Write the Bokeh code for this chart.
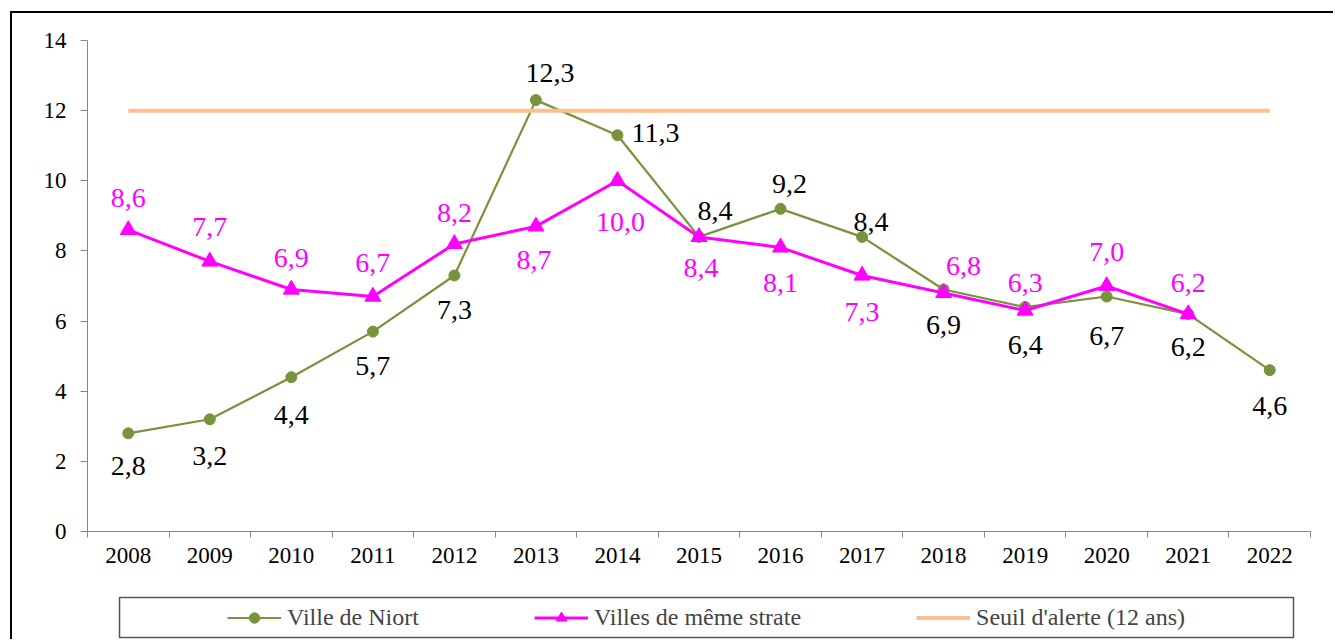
from bokeh.plotting import figure
from bokeh.models import Range1d, FixedTicker, ColumnDataSource, Legend, LegendItem
from bokeh.layouts import column
from bokeh.embed import file_html
from bokeh.resources import INLINE
from bokeh.core.properties import value

# ---- data ----
years = [2008, 2009, 2010, 2011, 2012, 2013, 2014, 2015, 2016, 2017, 2018, 2019, 2020, 2021, 2022]
niort = [2.8, 3.2, 4.4, 5.7, 7.3, 12.3, 11.3, 8.4, 9.2, 8.4, 6.9, 6.4, 6.7, 6.2, 4.6]
strate_years = [2008, 2009, 2010, 2011, 2012, 2013, 2014, 2015, 2016, 2017, 2018, 2019, 2020, 2021]
strate = [8.6, 7.7, 6.9, 6.7, 8.2, 8.7, 10.0, 8.4, 8.1, 7.3, 6.8, 6.3, 7.0, 6.2]
seuil = 12
y_ticks = [0, 2, 4, 6, 8, 10, 12, 14]
series_names = ["Ville de Niort", "Villes de même strate", "Seuil d'alerte (12 ans)"]

# label placement (screen px offsets)
niort_dx = [0, 0, 0, 0, 0, 14, 38, 16, 9, 9, 0, 0, 0, 0, 0]
niort_dy = [33, 37, 38, 34, 35, -27, -2, -26, -25, -15, 35, 38, 39, 33, 36]
strate_dx = [0, 0, 0, 0, 0, -2, 3, 2, 0, 0, 20, 0, 0, 0]
strate_dy = [-32, -34, -32, -34, -31, 34, 41, 31, 36, 37, -27, -28, -34, -31]

FONT = "Liberation Serif"
GREEN = "#77933C"
MAGENTA = "#FF00FF"
ORANGE = "#FAC090"
AXIS = "#868686"


def fmt(v):
    return f"{v:.1f}".replace(".", ",")


p = figure(frame_width=1223, frame_height=491,
           min_border_left=75, min_border_right=23, min_border_top=27, min_border_bottom=59,
           x_range=Range1d(years[0] - 0.5, years[-1] + 0.5), y_range=Range1d(0, 14),
           output_backend="svg", toolbar_location=None)
p.frame_align = False
p.grid.visible = False
p.outline_line_color = None

# x axis: ticks between categories, labels at centers
p.xaxis.ticker = FixedTicker(ticks=years, minor_ticks=[y - 0.5 for y in years] + [years[-1] + 0.5])
p.xaxis.major_tick_line_color = None
p.xaxis.major_tick_out = 6
p.xaxis.major_tick_in = 0
p.xaxis.minor_tick_line_color = AXIS
p.xaxis.minor_tick_out = 6
p.xaxis.minor_tick_in = 0
p.xaxis.axis_line_color = AXIS
p.xaxis.major_label_standoff = 10
p.xaxis.major_label_text_font = FONT
p.xaxis.major_label_text_font_size = "23px"
p.xaxis.major_label_text_color = "black"

p.yaxis.ticker = FixedTicker(ticks=y_ticks)
p.yaxis.major_tick_out = 7
p.yaxis.major_tick_in = 0
p.yaxis.minor_tick_line_color = None
p.yaxis.major_tick_line_color = AXIS
p.yaxis.axis_line_color = AXIS
p.yaxis.major_label_standoff = 14
p.yaxis.major_label_text_font = FONT
p.yaxis.major_label_text_font_size = "23px"
p.yaxis.major_label_text_color = "black"

src_n = ColumnDataSource(dict(x=years, y=niort, t=[fmt(v) for v in niort], dx=niort_dx, dy=niort_dy))
src_s = ColumnDataSource(dict(x=strate_years, y=strate, t=[fmt(v) for v in strate], dx=strate_dx, dy=strate_dy))

p.line("x", "y", source=src_n, line_color=GREEN, line_width=2.2)
p.scatter("x", "y", source=src_n, marker="circle", size=11, fill_color=GREEN, line_color=GREEN)
p.line("x", "y", source=src_s, line_color=MAGENTA, line_width=3)
p.scatter("x", "y", source=src_s, marker="triangle", size=16, fill_color=MAGENTA, line_color=MAGENTA)
p.line(years, [seuil] * len(years), line_color=ORANGE, line_width=4)

p.text("x", "y", text="t", source=src_n, x_offset="dx", y_offset="dy",
       text_font=value(FONT), text_font_size="28px", text_color="black",
       text_align="center", text_baseline="middle")
p.text("x", "y", text="t", source=src_s, x_offset="dx", y_offset="dy",
       text_font=value(FONT), text_font_size="28px", text_color=MAGENTA,
       text_align="center", text_baseline="middle")

# ---- legend box: a second figure whose frame is the legend box ----
lg = figure(frame_width=1174, frame_height=40,
            min_border_left=107, min_border_right=22, min_border_top=7, min_border_bottom=2,
            x_range=Range1d(0, 1), y_range=Range1d(0, 1),
            x_axis_location=None, y_axis_location=None,
            output_backend="svg", toolbar_location=None)
lg.frame_align = False
lg.grid.visible = False
lg.outline_line_color = "#555555"
lg.outline_line_width = 1.5
# series drawn outside this small figure's ranges: only their legend glyphs show
l1 = lg.line(years, niort, line_color=GREEN, line_width=2.2)
m1 = lg.scatter(years, niort, marker="circle", size=11, fill_color=GREEN, line_color=GREEN)
l2 = lg.line(strate_years, strate, line_color=MAGENTA, line_width=3)
m2 = lg.scatter(strate_years, strate, marker="triangle", size=16, fill_color=MAGENTA, line_color=MAGENTA)
l3 = lg.line(years, [seuil] * len(years), line_color=ORANGE, line_width=4)
legend = Legend(items=[LegendItem(label=series_names[0], renderers=[l1, m1]),
                       LegendItem(label=series_names[1], renderers=[l2, m2]),
                       LegendItem(label=series_names[2], renderers=[l3])],
                orientation="horizontal", location="center", spacing=115, padding=0, margin=0,
                border_line_color=None, background_fill_alpha=0,
                glyph_width=54, glyph_height=26, label_standoff=6,
                label_text_font=FONT, label_text_font_size="24px")
lg.add_layout(legend)

layout = column(p, lg, margin=(11, 0, 0, 10),
                styles={"border-left": "2px solid black", "border-top": "2px solid black"})

open("out.html", "w").write(file_html(layout, INLINE))
